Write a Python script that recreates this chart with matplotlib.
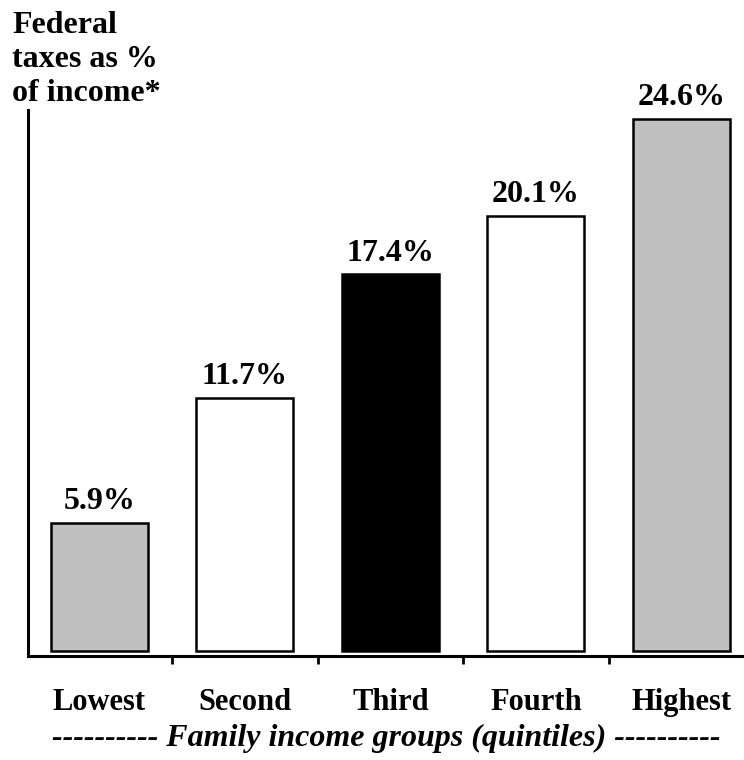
import matplotlib
matplotlib.use("Agg")
import matplotlib.pyplot as plt

categories = ["Lowest", "Second", "Third", "Fourth", "Highest"]
values = [5.9, 11.7, 17.4, 20.1, 24.6]
value_labels = ["5.9%", "11.7%", "17.4%", "20.1%", "24.6%"]
colors = ["#c0c0c0", "#ffffff", "#000000", "#ffffff", "#c0c0c0"]

plt.rcParams['font.family'] = ['Liberation Serif', 'DejaVu Serif']
plt.rcParams['font.weight'] = 'bold'

fig = plt.figure(figsize=(7.44, 7.6), dpi=100)
ax = fig.add_axes([28/744, 104/760, 716/744, 546/760])

x = list(range(len(categories)))
ax.bar(x, values, width=0.667, color=colors, edgecolor='black', linewidth=1.8, zorder=2)

for xi, v, lab in zip(x, values, value_labels):
    ax.annotate(lab, xy=(xi, v), xytext=(0, 10), textcoords='offset points',
                ha='center', va='baseline', fontsize=23, fontweight='bold')

for xi, c in zip(x, categories):
    ax.annotate(c, xy=(xi, 0), xycoords=('data', 'axes fraction'),
                xytext=(0, -39), textcoords='offset points',
                ha='center', va='baseline', fontsize=22, fontweight='bold',
                annotation_clip=False)

ax.annotate("---------- Family income groups (quintiles) ----------",
            xy=(0.5, 0), xycoords='axes fraction', xytext=(0, -64.5),
            textcoords='offset points', ha='center', va='baseline',
            fontsize=23, fontweight='bold', fontstyle='italic', annotation_clip=False)

fig.text(12/744, 1 - 11/760, "Federal\ntaxes as %\nof income*", ha='left', va='top',
         fontsize=23, fontweight='bold', linespacing=1.22)

ax.set_xlim(-0.491, 4.43)
ax.set_ylim(-0.23, 25.0)
ax.spines['top'].set_visible(False)
ax.spines['right'].set_visible(False)
ax.spines['left'].set_linewidth(2.2)
ax.spines['bottom'].set_linewidth(2.2)
ax.set_yticks([])
ax.set_xticks([])
ax.set_xticks([0.5, 1.5, 2.5, 3.5], minor=True)
ax.tick_params(axis='x', which='minor', direction='out', length=6, width=2, labelbottom=False)

fig.savefig("out.png", dpi=100)
